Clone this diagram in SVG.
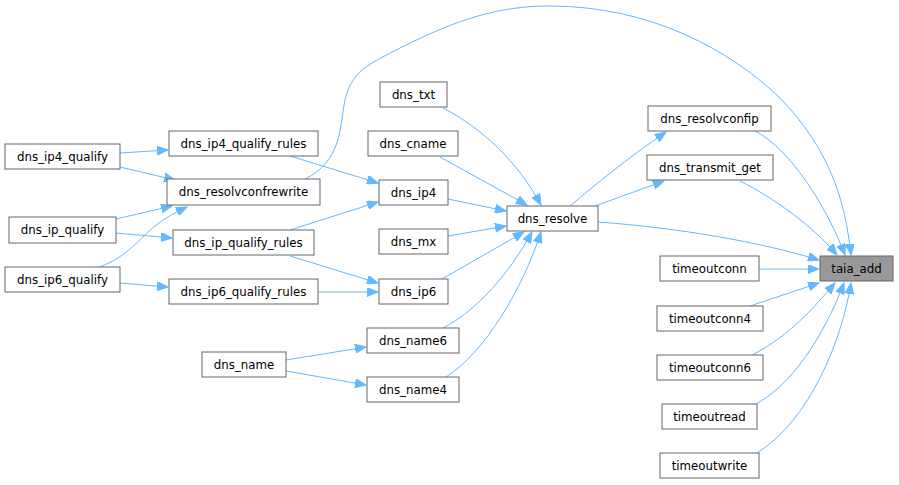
<svg xmlns="http://www.w3.org/2000/svg" width="899" height="485" viewBox="0 0 899 485">
<style>
.n rect{fill:#ffffff;stroke:#666666;stroke-width:1}
.n.hl rect{fill:#999999}
.n text{font-family:"DejaVu Sans","Liberation Sans",sans-serif;font-size:11.8px;fill:#000000;text-anchor:middle}
.e path{fill:none;stroke:#63b8ff;stroke-width:1;marker-end:url(#ah)}
</style>
<defs>
<marker id="ah" markerUnits="userSpaceOnUse" markerWidth="12" markerHeight="9" refX="11" refY="4.5" orient="auto">
<path d="M0,0 L11,4.5 L0,9 z" fill="#63b8ff" stroke="#63b8ff" stroke-width="1"/>
</marker>
</defs>
<rect width="899" height="485" fill="#ffffff"/>
<g id="edges" class="e">
<path d="M120,153 L168,150"/>
<path d="M120,167 L175,180"/>
<path d="M116,219 L172,206"/>
<path d="M100,267 C128,256 140,238 155,226 C165,218 176,212 187,207"/>
<path d="M116,233 L172,238"/>
<path d="M120,283 L168,287"/>
<path d="M290,156 L378,183"/>
<path d="M290,230 L378,202"/>
<path d="M290,256 L378,283"/>
<path d="M318,292 L378,292"/>
<path d="M305,179 C340,162 340,130 344,105 C350,70 370,64 400,48 C460,18 500,6 550,6 C650,6 730,50 780,98 C830,150 845,200 851,255"/>
<path d="M443,108 C482,128 518,162 541,205"/>
<path d="M440,157 L527,205"/>
<path d="M448,199 L506,211"/>
<path d="M448,236 L506,226"/>
<path d="M442,279 L524,232"/>
<path d="M443,328 C478,310 510,272 532,232"/>
<path d="M446,377 C485,352 522,290 541,232"/>
<path d="M286,360 L366,347"/>
<path d="M286,371 L366,385"/>
<path d="M570,206 C595,185 625,160 666,132"/>
<path d="M595,206 L664,181"/>
<path d="M598,222 C680,228 760,242 819,260"/>
<path d="M755,131 C792,150 828,210 845,255"/>
<path d="M740,181 C772,197 812,225 837,255"/>
<path d="M759,269 L819,269"/>
<path d="M750,306 L819,283"/>
<path d="M752,355 C790,336 815,306 835,283"/>
<path d="M756,404 C800,380 830,320 844,283"/>
<path d="M757,453 C810,420 842,340 851,283"/>
</g>
<g id="dns_ip4_qualify" class="n"><rect x="5" y="144" width="115" height="25"/><text x="62.5" y="160.5">dns_ip4_qualify</text></g>
<g id="dns_ip4_qualify_rules" class="n"><rect x="169" y="131" width="149" height="25"/><text x="243.5" y="147.5">dns_ip4_qualify_rules</text></g>
<g id="dns_resolvconfrewrite" class="n"><rect x="167" y="179" width="153" height="26"/><text x="243.5" y="196">dns_resolvconfrewrite</text></g>
<g id="dns_ip_qualify" class="n"><rect x="9" y="217" width="107" height="26"/><text x="62.5" y="234">dns_ip_qualify</text></g>
<g id="dns_ip_qualify_rules" class="n"><rect x="173" y="230" width="141" height="25"/><text x="243.5" y="246.5">dns_ip_qualify_rules</text></g>
<g id="dns_ip6_qualify" class="n"><rect x="5" y="267" width="115" height="25"/><text x="62.5" y="283.5">dns_ip6_qualify</text></g>
<g id="dns_ip6_qualify_rules" class="n"><rect x="169" y="279" width="149" height="25"/><text x="243.5" y="295.5">dns_ip6_qualify_rules</text></g>
<g id="dns_txt" class="n"><rect x="380" y="82" width="67" height="25"/><text x="413.5" y="98.5">dns_txt</text></g>
<g id="dns_cname" class="n"><rect x="368" y="131" width="90" height="25"/><text x="413" y="147.5">dns_cname</text></g>
<g id="dns_ip4" class="n"><rect x="379" y="180" width="69" height="25"/><text x="413.5" y="196.5">dns_ip4</text></g>
<g id="dns_mx" class="n"><rect x="379" y="229" width="69" height="25"/><text x="413.5" y="245.5">dns_mx</text></g>
<g id="dns_ip6" class="n"><rect x="379" y="279" width="69" height="25"/><text x="413.5" y="295.5">dns_ip6</text></g>
<g id="dns_name6" class="n"><rect x="367" y="328" width="92" height="25"/><text x="413" y="344.5">dns_name6</text></g>
<g id="dns_name4" class="n"><rect x="367" y="377" width="92" height="25"/><text x="413" y="393.5">dns_name4</text></g>
<g id="dns_name" class="n"><rect x="202" y="352" width="84" height="25"/><text x="244" y="368.5">dns_name</text></g>
<g id="dns_resolve" class="n"><rect x="507" y="206" width="91" height="25"/><text x="552.5" y="222.5">dns_resolve</text></g>
<g id="dns_resolvconfip" class="n"><rect x="648" y="106" width="123" height="25"/><text x="709.5" y="122.5">dns_resolvconfip</text></g>
<g id="dns_transmit_get" class="n"><rect x="647" y="155" width="126" height="25"/><text x="710" y="171.5">dns_transmit_get</text></g>
<g id="taia_add" class="n hl"><rect x="820" y="256" width="73" height="25"/><text x="856.5" y="272.5">taia_add</text></g>
<g id="timeoutconn" class="n"><rect x="660" y="256" width="99" height="25"/><text x="709.5" y="272.5">timeoutconn</text></g>
<g id="timeoutconn4" class="n"><rect x="657" y="306" width="106" height="25"/><text x="710" y="322.5">timeoutconn4</text></g>
<g id="timeoutconn6" class="n"><rect x="657" y="355" width="106" height="25"/><text x="710" y="371.5">timeoutconn6</text></g>
<g id="timeoutread" class="n"><rect x="662" y="404" width="95" height="25"/><text x="709.5" y="420.5">timeoutread</text></g>
<g id="timeoutwrite" class="n"><rect x="660" y="453" width="99" height="25"/><text x="709.5" y="469.5">timeoutwrite</text></g>
</svg>
